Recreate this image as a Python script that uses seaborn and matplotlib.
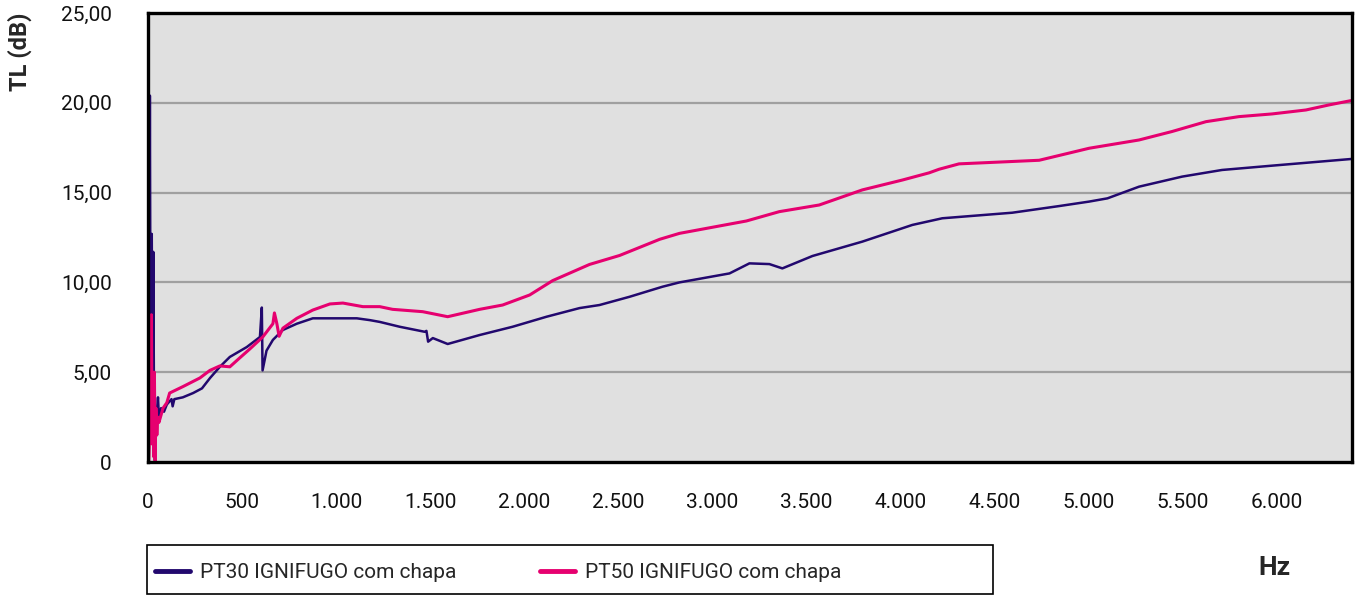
import numpy as np
import pandas as pd
import seaborn as sns
import matplotlib.pyplot as plt
from matplotlib.lines import Line2D
from matplotlib.patches import Rectangle
from matplotlib.ticker import FuncFormatter

# Valeurs (Hz, dB)
pt30_hz = [2, 6, 10, 14, 20, 24, 28, 32, 37, 45, 53, 58, 70, 85, 100, 125, 131, 140,
           185, 240, 287, 330, 382, 435, 525, 595, 605, 609, 630, 664, 717, 791,
           876, 967, 1110, 1179, 1232, 1338, 1471, 1480, 1489, 1514, 1593, 1763,
           1938, 2119, 2294, 2400, 2560, 2735, 2825, 3091, 3197, 3303, 3372, 3532,
           3797, 4063, 4222, 4594, 4843, 5003, 5100, 5268, 5497, 5709, 5975, 6394]
pt30_tl = [8.0, 3.0, 20.4, 4.0, 12.7, 3.0, 11.7, 3.0, 0.1, 2.5, 3.6, 2.5, 3.0, 2.8,
           3.2, 3.5, 3.1, 3.5, 3.6, 3.84, 4.1, 4.68, 5.3, 5.85, 6.4, 6.96, 8.6, 5.1,
           6.2, 6.8, 7.35, 7.7, 8.0, 8.0, 8.0, 7.9, 7.8, 7.53, 7.25, 7.3, 6.7, 6.9,
           6.57, 7.07, 7.53, 8.09, 8.57, 8.74, 9.2, 9.76, 10.0, 10.5, 11.06, 11.02,
           10.78, 11.47, 12.27, 13.2, 13.57, 13.88, 14.25, 14.5, 14.68, 15.33,
           15.89, 16.26, 16.5, 16.87]

pt50_hz = [4, 10, 18, 22, 26, 30, 34, 38, 42, 47, 52, 58, 80, 100, 115, 186, 276, 329,
           382, 435, 488, 542, 610, 664, 672, 685, 697, 717, 791, 876, 967, 1036,
           1142, 1232, 1300, 1460, 1593, 1763, 1885, 2029, 2151, 2347, 2507, 2720,
           2825, 3181, 3356, 3568, 3797, 4010, 4152, 4205, 4311, 4525, 4737, 5003,
           5268, 5443, 5624, 5799, 5975, 6155, 6277, 6394]
pt50_tl = [0.0, 2.0, 8.2, 1.0, 5.0, 0.3, 5.0, 0.0, 3.0, 1.5, 2.5, 2.2, 3.0, 3.3,
           3.84, 4.2, 4.68, 5.1, 5.35, 5.3, 5.8, 6.3, 6.96, 7.7, 8.3, 7.7, 7.0,
           7.45, 8.0, 8.46, 8.8, 8.85, 8.65, 8.65, 8.5, 8.37, 8.09, 8.5, 8.74, 9.3,
           10.1, 11.0, 11.5, 12.4, 12.73, 13.42, 13.94, 14.31, 15.15, 15.7, 16.1,
           16.3, 16.6, 16.7, 16.8, 17.47, 17.93, 18.4, 18.95, 19.23, 19.38, 19.6,
           19.88, 20.12]

labels = ["PT30 IGNIFUGO com chapa", "PT50 IGNIFUGO com chapa"]
couleurs = ["#22086e", "#e6006f"]

df = pd.concat([
    pd.DataFrame({"Hz": pt30_hz, "TL": pt30_tl, "serie": labels[0]}),
    pd.DataFrame({"Hz": pt50_hz, "TL": pt50_tl, "serie": labels[1]}),
])

sns.set_style("white")
plt.rcParams['font.family'] = ['Roboto', 'DejaVu Sans']

fig = plt.figure(figsize=(13.56, 5.98), dpi=100)
ax = fig.add_axes([148 / 1356, 136 / 598, 1204 / 1356, 449 / 598])
ax.set_facecolor("#e0e0e0")

sns.lineplot(data=df[df.serie == labels[0]], x="Hz", y="TL", color=couleurs[0],
             lw=1.8, estimator=None, ax=ax, legend=False)
sns.lineplot(data=df[df.serie == labels[1]], x="Hz", y="TL", color=couleurs[1],
             lw=2.2, estimator=None, ax=ax, legend=False)

ax.set_xlim(0, 6400)
ax.set_ylim(0, 25)
ax.set_xticks(range(0, 6001, 500))
ax.set_yticks(range(0, 26, 5))
ax.xaxis.set_major_formatter(FuncFormatter(lambda v, p: f"{int(v):,}".replace(",", ".")))
ax.yaxis.set_major_formatter(FuncFormatter(lambda v, p: "0" if v == 0 else f"{v:.2f}".replace(".", ",")))
ax.tick_params(axis="both", direction="out", length=8, width=1, color="#c8c8c8",
               labelsize=15, labelcolor="#111111")
ax.tick_params(axis="y", pad=18)
ax.tick_params(axis="x", pad=14)
for y in [5, 10, 15, 20]:
    ax.axhline(y, color="#a0a0a0", lw=1.6, zorder=0)
for s in ax.spines.values():
    s.set_color("black")
    s.set_linewidth(2.4)
ax.set_xlabel("")
ax.set_ylabel("")

fig.text(20 / 1356, 1 - 52 / 598, "TL (dB)", rotation=90, ha="center", va="center",
         fontsize=17, fontweight="bold")
fig.text(1274 / 1356, 1 - 568 / 598, "Hz", ha="center", va="center",
         fontsize=19, fontweight="bold")

# Cadre de la légende
fig.patches.append(Rectangle((147 / 1356, 4 / 598), 846 / 1356, 49 / 598,
                             transform=fig.transFigure, fill=False,
                             edgecolor="black", lw=1.2))
for i, x0 in enumerate([155, 540]):
    h = Line2D([], [], color=couleurs[i], lw=3.5)
    fig.legend([h], [labels[i]], loc="center left",
               bbox_to_anchor=(x0 / 1356, 1 - 573 / 598), frameon=False,
               borderpad=0, borderaxespad=0, handlelength=1.67,
               handletextpad=0.5, fontsize=15)

plt.savefig("out.png", dpi=100)
